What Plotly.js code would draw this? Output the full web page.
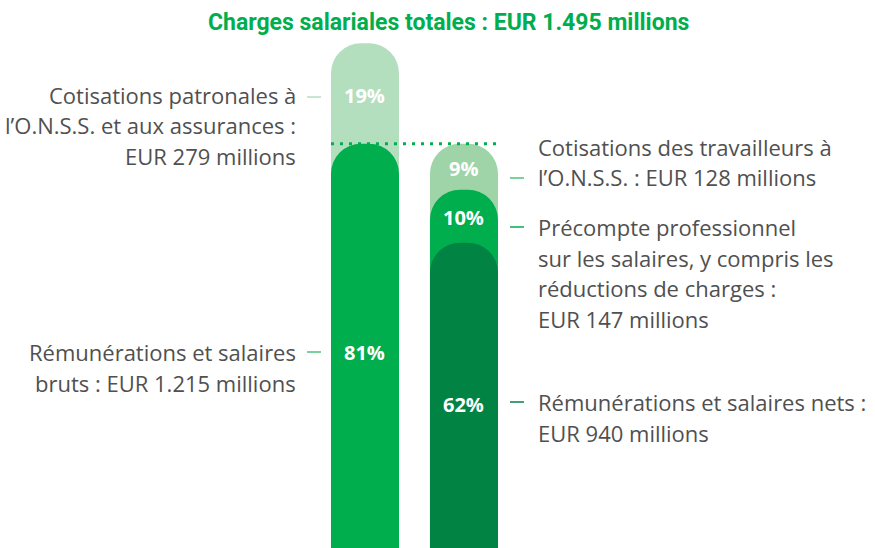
<!DOCTYPE html>
<html>
<head>
<meta charset="utf-8">
<script src="https://cdn.plot.ly/plotly-3.0.1.min.js"></script>
<style>html,body{margin:0;padding:0;background:#fff;}#chart{width:875px;height:548px;}</style>
</head>
<body>
<div id="chart"></div>
<script>
// ---- data (EUR millions) ----
const categories = ['Charges salariales totales', 'Répartition'];
const patronales = 279;      // Cotisations patronales
const brutes = 1215;         // Rémunérations et salaires bruts
const travailleurs = 128;    // Cotisations des travailleurs
const precompte = 147;       // Précompte professionnel
const nets = 940;            // Rémunérations et salaires nets
const total = 1495;
const pctLabels = ['19%', '81%', '9%', '10%', '62%'];
const title = 'Charges salariales totales : EUR 1.495 millions';
const leftLabels = [
  ['Cotisations patronales à', 'l\u2019O.N.S.S. et aux assurances :', 'EUR 279 millions'],
  ['Rémunérations et salaires', 'bruts : EUR 1.215 millions']
];
const rightLabels = [
  ['Cotisations des travailleurs à', 'l\u2019O.N.S.S. : EUR 128 millions'],
  ['Précompte professionnel', 'sur les salaires, y compris les', 'réductions de charges :', 'EUR 147 millions'],
  ['Rémunérations et salaires nets :', 'EUR 940 millions']
];

// ---- styling ----
const W = 875, H = 548;
const C_LIGHT1 = '#b4dfbf', C_LIGHT2 = '#9ed4a7', C_GREEN = '#00ae4d', C_DARK = '#008343';
const TXT = '#505050';
const bw = 0.687;
const RAD = 30;
const px = v => v / W;
const py = v => 1 - v / H;

const traces = [
  {type: 'bar', x: categories, y: [brutes + patronales, nets + precompte + travailleurs], xaxis: 'x',
   marker: {color: [C_LIGHT1, C_LIGHT2], cornerradius: RAD}, width: bw, hoverinfo: 'skip'},
  {type: 'bar', x: categories, y: [brutes, nets + precompte], xaxis: 'x2',
   marker: {color: [C_GREEN, C_GREEN], cornerradius: RAD}, width: bw, hoverinfo: 'skip'},
  {type: 'bar', x: categories, y: [null, nets], xaxis: 'x3',
   marker: {color: [C_DARK, C_DARK], cornerradius: RAD}, width: bw, hoverinfo: 'skip'}
];

const annotations = [];
const shapes = [];
const LS = 30.5;
function addLines(lines, x, y0, anchor) {
  lines.forEach((t, i) => annotations.push({
    text: t, xref: 'paper', yref: 'paper', x: px(x), y: py(y0 + i * LS),
    xanchor: anchor, yanchor: 'middle', showarrow: false,
    font: {family: 'Open Sans', size: 22, color: TXT}
  }));
}
function addDash(x0, y, color) {
  shapes.push({type: 'line', xref: 'paper', yref: 'paper', x0: px(x0), x1: px(x0 + 14), y0: py(y), y1: py(y),
    line: {color: color, width: 1.5}});
}
addLines(leftLabels[0], 298, 95, 'right'); addDash(307, 97, C_LIGHT1);
addLines(leftLabels[1], 298, 352, 'right'); addDash(307, 352, '#4cc27a');
addLines(rightLabels[0], 536, 147, 'left'); addDash(510, 178, '#4cc27a');
addLines(rightLabels[1], 536, 227, 'left'); addDash(510, 227, C_GREEN);
addLines(rightLabels[2], 536, 402, 'left'); addDash(510, 402, C_DARK);

// percentage labels inside bars
const pctPos = [[0, 95], [0, 352], [1, 168], [1, 217], [1, 404]];
pctLabels.forEach((t, i) => annotations.push({
  text: '<b>' + t + '</b>', xref: 'x', yref: 'paper', x: pctPos[i][0], y: py(pctPos[i][1]),
  xanchor: 'center', yanchor: 'middle', showarrow: false,
  font: {family: 'Open Sans', size: 20, color: '#ffffff'}
}));

// title
annotations.push({
  text: '<b>' + title + '</b>', xref: 'paper', yref: 'paper', x: px(448), y: py(22),
  xanchor: 'center', yanchor: 'middle', showarrow: false,
  font: {family: 'Roboto, sans-serif', size: 23, color: C_GREEN}
});

// dotted line at top of gross salaries
shapes.push({type: 'line', xref: 'x', yref: 'y', x0: -bw / 2, x1: 1 + bw / 2, y0: brutes, y1: brutes,
  line: {color: C_GREEN, width: 3, dash: '3px,6px'}});

const xr = [-3.687, 5.152];
const xcommon = {range: xr, visible: false, fixedrange: true, type: 'category',
  categoryorder: 'array', categoryarray: categories};
const layout = {
  width: W, height: H,
  margin: {l: 0, r: 0, t: 0, b: 0},
  paper_bgcolor: '#ffffff', plot_bgcolor: '#ffffff',
  barmode: 'overlay', showlegend: false,
  xaxis: Object.assign({}, xcommon),
  xaxis2: Object.assign({overlaying: 'x', anchor: 'y'}, xcommon),
  xaxis3: Object.assign({overlaying: 'x', anchor: 'y'}, xcommon),
  yaxis: {range: [92, 1614], visible: false, fixedrange: true},
  annotations: annotations, shapes: shapes
};
Plotly.newPlot('chart', traces, layout, {staticPlot: true});
</script>
</body>
</html>
